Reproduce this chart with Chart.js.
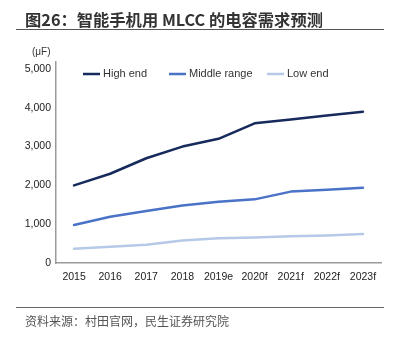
<!DOCTYPE html>
<html>
<head>
<meta charset="utf-8">
<script src="https://cdn.jsdelivr.net/npm/chart.js@4/dist/chart.umd.min.js"></script>
<style>
  html, body { margin: 0; padding: 0; background: #fff; }
  body { width: 396px; height: 338px; position: relative; overflow: hidden; }
  #c { position: absolute; left: 0; top: 0; }
  .ov { position: absolute; z-index: 2; white-space: nowrap; }
  #title { left: 25px; top: 10px; font: bold 16.3px/18px "Noto Sans CJK SC", sans-serif; color: #333; }
  #rule1 { left: 16px; top: 29px; width: 368px; height: 0; border-top: 1.6px solid #555; }
  #unit { left: 32px; top: 46px; font: 10px/12px "Liberation Sans", sans-serif; color: #333; }
  #rule2 { left: 16px; top: 306.5px; width: 368px; height: 0; border-top: 1.4px solid #666; }
  #src { left: 25px; top: 313px; font: 12px/16px "Noto Sans CJK SC", sans-serif; color: #555; }
</style>
</head>
<body>
<canvas id="c" width="396" height="338"></canvas>
<div class="ov" id="title">图26：智能手机用 MLCC 的电容需求预测</div>
<div class="ov" id="rule1"></div>
<div class="ov" id="unit">(μF)</div>
<div class="ov" id="rule2"></div>
<div class="ov" id="src">资料来源：村田官网，民生证券研究院</div>
<script>
const categories = ['2015', '2016', '2017', '2018', '2019e', '2020f', '2021f', '2022f', '2023f'];
const seriesNames = ['High end', 'Middle range', 'Low end'];
const highEnd = [2000, 2300, 2700, 3000, 3200, 3600, 3700, 3800, 3900];
const middleRange = [980, 1190, 1340, 1480, 1580, 1640, 1840, 1890, 1940];
const lowEnd = [370, 420, 470, 580, 640, 660, 690, 710, 745];
const yTicks = [0, 1000, 2000, 3000, 4000, 5000];

const colors = ['#172a5c', '#4a72c6', '#b7c9e8'];

const legendPlugin = {
  id: 'inlineLegend',
  afterDraw(chart) {
    const ctx = chart.ctx;
    const xs = [83, 169, 267];
    const y = 74;
    ctx.save();
    ctx.font = '11px "Liberation Sans", sans-serif';
    ctx.textBaseline = 'middle';
    chart.data.datasets.forEach((ds, i) => {
      ctx.strokeStyle = ds.borderColor;
      ctx.lineWidth = 2.5;
      ctx.beginPath();
      ctx.moveTo(xs[i], y);
      ctx.lineTo(xs[i] + 17, y);
      ctx.stroke();
      ctx.fillStyle = '#333';
      ctx.fillText(ds.label, xs[i] + 20, y);
    });
    ctx.restore();
  }
};

new Chart(document.getElementById('c'), {
  type: 'line',
  data: {
    labels: categories,
    datasets: [
      { label: seriesNames[0], data: highEnd, borderColor: colors[0], backgroundColor: colors[0] },
      { label: seriesNames[1], data: middleRange, borderColor: colors[1], backgroundColor: colors[1] },
      { label: seriesNames[2], data: lowEnd, borderColor: colors[2], backgroundColor: colors[2] }
    ]
  },
  options: {
    responsive: false,
    animation: false,
    layout: { padding: { top: 62, right: 15, left: 0, bottom: 0 } },
    elements: {
      line: { borderWidth: 2.5, tension: 0, borderCapStyle: 'round', borderJoinStyle: 'round' },
      point: { radius: 0 }
    },
    plugins: { legend: { display: false }, tooltip: { enabled: false } },
    scales: {
      x: {
        type: 'category',
        offset: true,
        grid: { display: false, drawTicks: false },
        border: { display: true, color: '#9a9a9a', width: 1.5 },
        ticks: { color: '#222', padding: 8, font: { size: 10.5, family: '"Liberation Sans", sans-serif' }, maxRotation: 0, autoSkip: false },
        afterFit(scale) { scale.height = 75; }
      },
      y: {
        min: 0,
        max: 5180,
        grid: { display: false, drawTicks: false },
        border: { display: true, color: '#9a9a9a', width: 1.5 },
        afterBuildTicks(scale) { scale.ticks = yTicks.map(v => ({ value: v })); },
        ticks: {
          autoSkip: false,
          color: '#222',
          padding: 5,
          font: { size: 10.5, family: '"Liberation Sans", sans-serif' },
          callback: (v) => Number(v).toLocaleString('en-US')
        },
        afterFit(scale) { scale.width = 56; }
      }
    }
  },
  plugins: [legendPlugin]
});
</script>
</body>
</html>
